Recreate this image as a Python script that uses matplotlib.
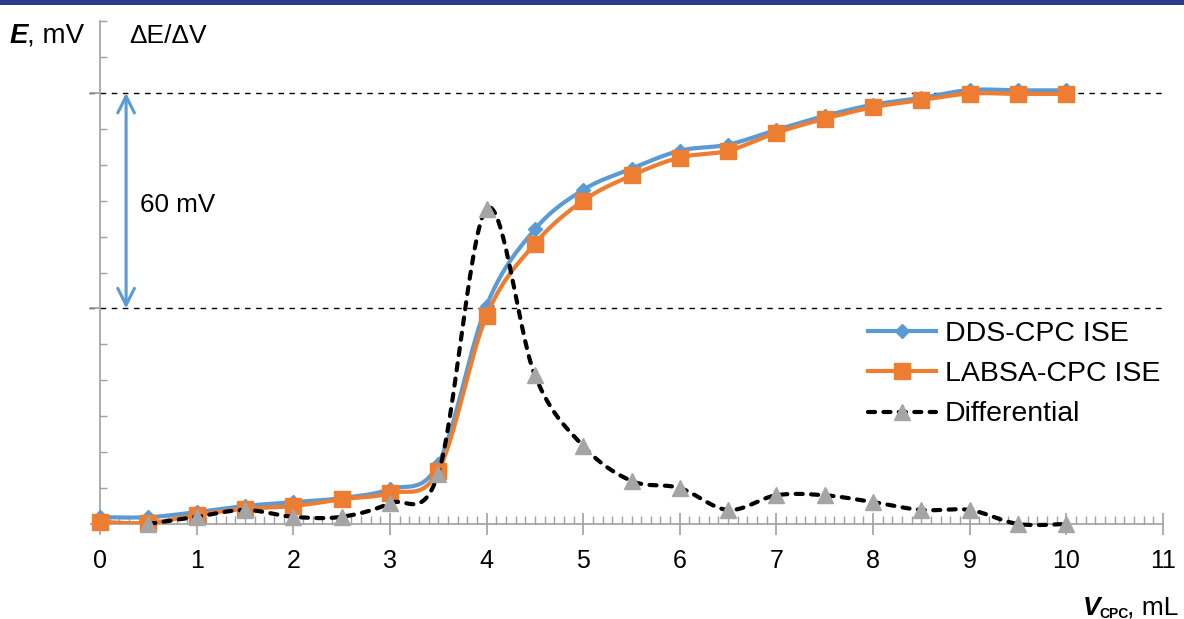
import numpy as np
import matplotlib.pyplot as plt
from matplotlib.patches import Rectangle

plt.rcParams['font.family'] = ['Liberation Sans', 'DejaVu Sans']

# titrant volume, mL
v = [0, 0.5, 1, 1.5, 2, 2.5, 3, 3.5, 4, 4.5, 5, 5.5, 6, 6.5, 7, 7.5, 8, 8.5, 9, 9.5, 10]
# potential, mV (relative to axis)
e_dds = [1.9, 1.9, 3.3, 5.0, 6.1, 7.2, 9.7, 16.7, 60.8, 82.0, 93.0, 98.9, 103.9, 105.6,
         109.7, 113.6, 116.7, 118.6, 120.8, 120.7, 120.7]
e_labsa = [0.6, 0.3, 2.5, 4.2, 5.0, 6.9, 8.6, 14.7, 58.0, 78.0, 90.0, 97.0, 102.0, 103.9,
           108.9, 112.8, 116.0, 118.0, 119.8, 119.7, 119.7]
# differential dE/dV (scaled), starts at 0.5 mL
v_diff = v[1:]
d_diff = [0.0, 2.0, 3.9, 2.0, 2.0, 5.8, 14.0, 87.8, 41.4, 21.7, 12.0, 10.0, 3.9, 8.0, 8.0,
          6.1, 3.9, 3.9, 0.0, 0.0]

blue = '#5B9BD5'
orange = '#ED7D31'
gray = '#A5A5A5'
axcol = '#A0A0A0'
W, H = 1184, 619


def smooth(x, y, n=30):
    # Excel-style smoothed line (Bezier through the points)
    p = np.column_stack([x, y]).astype(float)
    p = np.vstack([p[0], p, p[-1]])
    out = []
    t = np.linspace(0, 1, n)[:, None]
    for i in range(1, len(p) - 2):
        p0, p1 = p[i], p[i + 1]
        c1 = p[i] + (p[i + 1] - p[i - 1]) / 6
        c2 = p[i + 1] - (p[i + 2] - p[i]) / 6
        seg = (1 - t) ** 3 * p0 + 3 * (1 - t) ** 2 * t * c1 + 3 * (1 - t) * t ** 2 * c2 + t ** 3 * p1
        out.append(seg)
    s = np.vstack(out)
    return s[:, 0], s[:, 1]


def px(x, y):
    return x / W, 1 - y / H


fig = plt.figure(figsize=(W / 100, H / 100), dpi=100)
ax = fig.add_axes([100 / W, 1 - 524 / H, 1063 / W, 503 / H])

# reference lines
for yy in (60, 120):
    ax.axhline(yy, color='black', lw=1, ls=(0, (4, 4)), xmin=-0.01, clip_on=False, zorder=1)

dash = dict(color='black', lw=3, ls=(0, (1.7, 2.0)), dash_capstyle='round')

sx, sy = smooth(v, e_dds)
ax.plot(sx, sy, color=blue, lw=3, zorder=3, solid_capstyle='round')
ax.plot(v, e_dds, ls='none', marker='D', ms=7.5, color=blue, zorder=3, clip_on=False)
ax.plot([], [], color=blue, lw=3, marker='D', ms=7.5, label='DDS-CPC ISE')

sx, sy = smooth(v, e_labsa)
ax.plot(sx, sy, color=orange, lw=3, zorder=4, solid_capstyle='round')
ax.plot(v, e_labsa, ls='none', marker='s', ms=11, color=orange, zorder=4, clip_on=False)
ax.plot([], [], color=orange, lw=3, marker='s', ms=11, label='LABSA-CPC ISE')

sx, sy = smooth(v_diff, d_diff)
ax.plot(sx, sy, zorder=5, clip_on=False, **dash)
ax.plot(v_diff, d_diff, ls='none', marker='^', ms=11, color=gray, zorder=6, clip_on=False)
ax.plot([], [], marker='^', ms=11, mfc=gray, mec=gray, label='Differential', **dash)

# 60 mV arrow
ax.annotate('', xy=(0.27, 120), xytext=(0.27, 60),
            arrowprops=dict(arrowstyle='<->', color=blue, lw=2.2, mutation_scale=30,
                            shrinkA=0, shrinkB=0))

ax.set_xlim(0, 11)
ax.set_ylim(0, 140)
ax.set_xticks(range(0, 12))
ax.set_xticks(np.arange(0, 11.01, 0.1), minor=True)
ax.set_yticks([0, 60, 120])
ax.set_yticks(np.arange(0, 141, 10), minor=True)
ax.set_yticklabels([])
ax.tick_params(axis='x', which='major', direction='inout', length=16, width=1.2,
               color=axcol, labelsize=18, pad=10)
ax.tick_params(axis='x', which='minor', direction='in', length=6, width=1, color=axcol)
ax.tick_params(axis='y', which='major', direction='out', length=7, width=1.2, color=axcol)
ax.tick_params(axis='y', which='minor', direction='in', length=5, width=1, color=axcol)
for s in ['top', 'right']:
    ax.spines[s].set_visible(False)
for s in ['left', 'bottom']:
    ax.spines[s].set_color(axcol)
    ax.spines[s].set_linewidth(1.2)

leg = ax.legend(loc='upper left', bbox_to_anchor=px(868, 321),
                bbox_transform=fig.transFigure, frameon=False, fontsize=20.5,
                handlelength=2.4, handletextpad=0.3, labelspacing=0.5, borderpad=0,
                borderaxespad=0)

# labels
fig.text(*px(10, 43), 'E', fontsize=20, fontweight='bold', style='italic', va='baseline')
fig.text(*px(27, 43), ', mV', fontsize=20, va='baseline')
fig.text(*px(129, 43), 'ΔE/ΔV', fontsize=19, va='baseline')
fig.text(*px(140, 212), '60 mV', fontsize=18.7, va='baseline')
fig.text(*px(1083, 615), 'V', fontsize=19, fontweight='bold', style='italic', va='baseline')
fig.text(*px(1099, 618), 'CPC', fontsize=10, fontweight='bold', va='baseline')
fig.text(*px(1127, 615), ', mL', fontsize=19, va='baseline')

# top band
fig.add_artist(Rectangle((0, 1 - 5 / H), 1, 5 / H, transform=fig.transFigure,
                         color='#2E3A8C', lw=0))

fig.savefig('out.png', dpi=100)
